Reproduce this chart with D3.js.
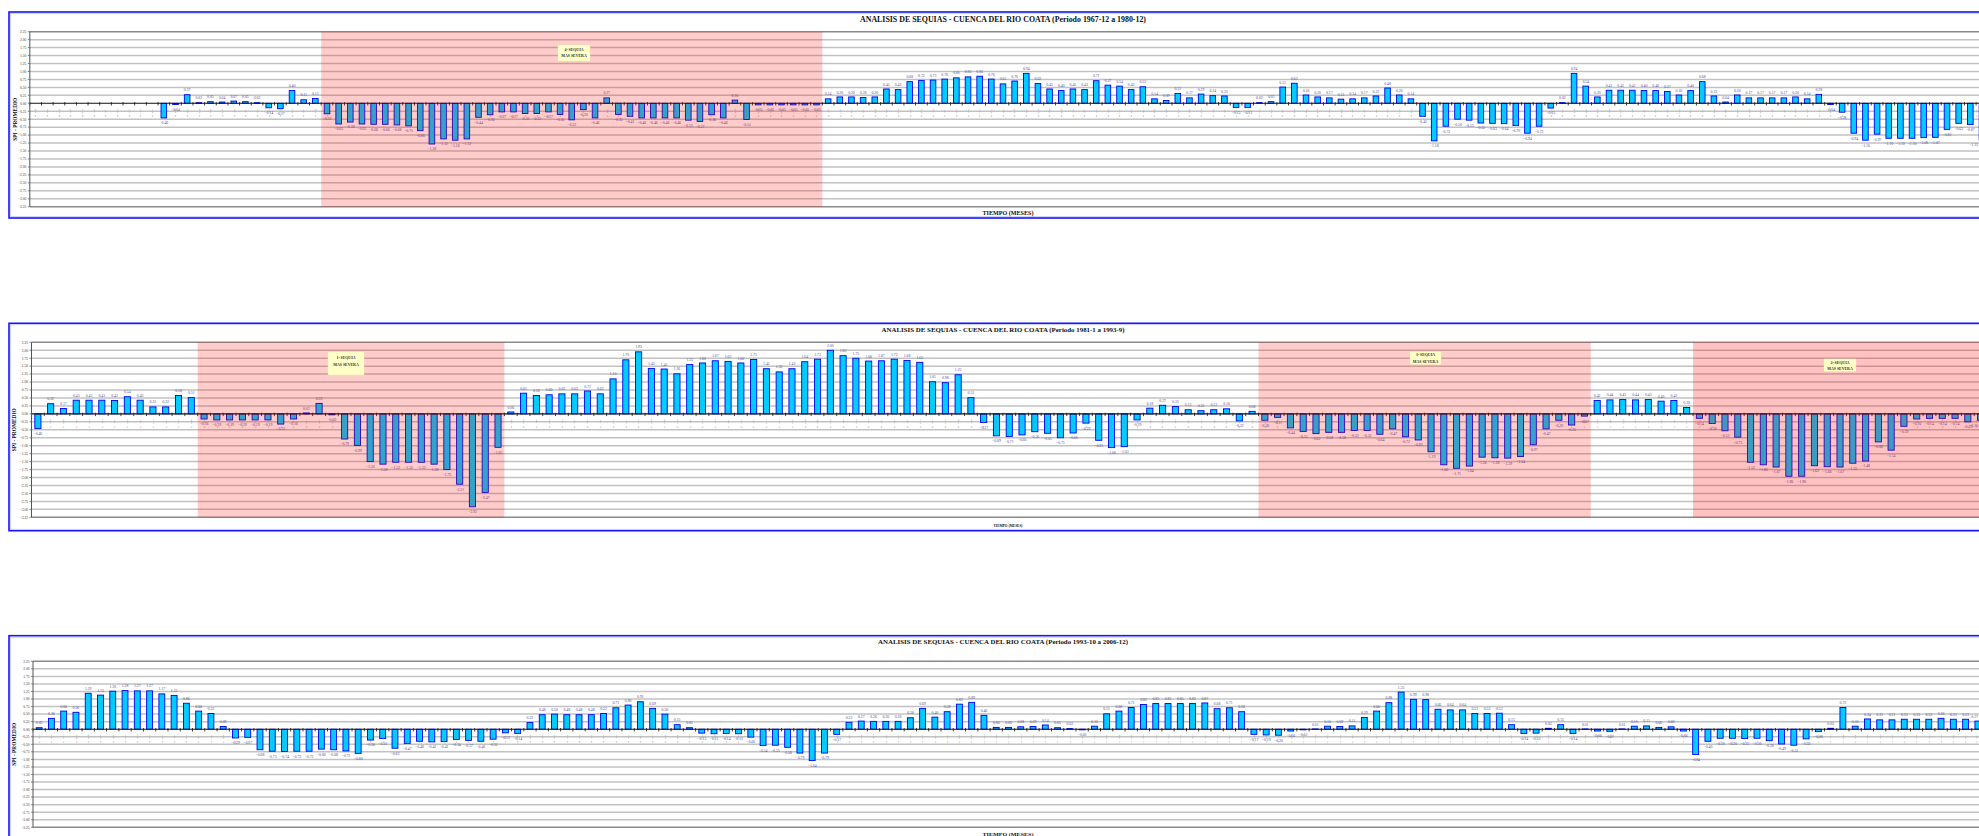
<!DOCTYPE html>
<html><head><meta charset="utf-8">
<script src="https://cdn.jsdelivr.net/npm/d3@7"></script>
<style>body{margin:0;background:#fff;overflow:hidden}svg{display:block}</style>
</head><body>
<svg id="c" width="1979" height="836"></svg>
<script>
// ---------------- DATA ----------------
const titles = [
  "ANALISIS DE SEQUIAS - CUENCA DEL RIO COATA (Periodo 1967-12 a 1980-12)",
  "ANALISIS DE SEQUIAS - CUENCA DEL RIO COATA (Periodo 1981-1 a 1993-9)",
  "ANALISIS DE SEQUIAS - CUENCA DEL RIO COATA (Periodo 1993-10 a 2006-12)"
];
const xTitle = "TIEMPO (MESES)";
const yTitle = "SPI - PROMEDIO";
const yTickValues = [2.25,2.00,1.75,1.50,1.25,1.00,0.75,0.50,0.25,0.00,-0.25,-0.50,-0.75,-1.00,-1.25,-1.50,-1.75,-2.00,-2.25,-2.50,-2.75,-3.00,-3.25];
const monthNames = ["ENE","FEB","MAR","ABR","MAY","JUN","JUL","AGO","SET","OCT","NOV","DIC"];

const spi1 = [
  0,0,0,0,0,0,0,0,0,0,
  0,-0.46,-0.04,0.27,0.02,0.05,0.04,0.07,0.05,0.02,
  -0.14,-0.17,0.40,0.11,0.15,-0.33,-0.65,-0.59,-0.65,-0.66,
  -0.66,-0.68,-0.71,-0.86,-1.28,-1.12,-1.16,-1.12,-0.44,-0.36,
  -0.27,-0.27,-0.32,-0.32,-0.27,-0.35,-0.52,-0.20,-0.46,0.17,
  -0.35,-0.41,-0.46,-0.46,-0.46,-0.46,-0.53,-0.57,-0.36,-0.46,
  0.10,-0.51,-0.05,-0.05,-0.05,-0.05,-0.05,-0.05,0.14,0.20,
  0.20,0.18,0.20,0.45,0.43,0.68,0.72,0.73,0.76,0.80,
  0.83,0.85,0.76,0.61,0.70,0.94,0.62,0.45,0.40,0.45,
  0.43,0.71,0.57,0.54,0.43,0.52,0.14,0.09,0.31,0.17,
  0.29,0.24,0.23,-0.13,-0.13,0.02,0.05,0.51,0.63,0.26,
  0.20,0.17,0.13,0.14,0.17,0.23,0.48,0.26,0.14,-0.41,
  -1.18,-0.72,-0.50,-0.53,-0.62,-0.63,-0.64,-0.70,-0.94,-0.72,
  -0.15,0.02,0.94,0.54,0.20,0.41,0.41,0.41,0.40,0.40,
  0.37,0.26,0.40,0.68,0.23,0.04,0.26,0.17,0.17,0.17,
  0.17,0.20,0.14,0.28,-0.04,-0.28,-0.94,-1.16,-0.97,-1.10,
  -1.10,-1.10,-1.08,-1.07,-0.82,-0.63,-0.67,-1.15
];
const spi2 = [
  -0.46,0.32,0.17,0.43,0.43,0.43,0.42,0.54,0.43,0.22,
  0.22,0.58,0.51,-0.16,-0.19,-0.19,-0.19,-0.19,-0.19,-0.32,
  -0.16,0.03,0.33,-0.03,-0.79,-0.99,-1.50,-1.58,-1.52,-1.52,
  -1.52,-1.58,-1.75,-2.21,-2.92,-2.47,-1.05,0.06,0.65,0.58,
  0.60,0.63,0.63,0.72,0.63,1.10,1.70,1.95,1.43,1.41,
  1.26,1.55,1.60,1.67,1.65,1.60,1.71,1.42,1.32,1.42,
  1.64,1.72,2.00,1.83,1.75,1.66,1.67,1.72,1.68,1.62,
  1.01,0.98,1.23,0.51,-0.27,-0.69,-0.71,-0.66,-0.56,-0.61,
  -0.75,-0.60,-0.29,-0.83,-1.06,-1.03,-0.19,0.18,0.27,0.23,
  0.13,0.10,0.13,0.16,-0.22,0.08,-0.20,-0.11,-0.44,-0.55,
  -0.62,-0.58,-0.58,-0.52,-0.52,-0.64,-0.47,-0.72,-0.82,-1.19,
  -1.60,-1.71,-1.64,-1.36,-1.38,-1.39,-1.34,-0.97,-0.47,-0.20,
  -0.35,-0.07,0.42,0.44,0.45,0.44,0.45,0.40,0.42,0.20,
  -0.14,-0.30,-0.53,-0.73,-1.52,-1.60,-1.67,-1.96,-1.96,-1.63,
  -1.66,-1.67,-1.55,-1.48,-0.88,-1.14,-0.39,-0.16,-0.14,-0.14,
  -0.14,-0.25,-0.20
];
const spi3 = [
  0.05,0.36,0.60,0.56,1.19,1.13,1.26,1.28,1.27,1.27,
  1.17,1.12,0.86,0.60,0.52,0.09,-0.29,-0.27,-0.68,-0.73,
  -0.74,-0.73,-0.73,-0.66,-0.68,-0.72,-0.80,-0.36,-0.31,-0.63,
  -0.47,-0.40,-0.42,-0.41,-0.34,-0.37,-0.40,-0.33,-0.12,-0.14,
  0.22,0.48,0.50,0.48,0.48,0.48,0.52,0.71,0.80,0.91,
  0.69,0.50,0.15,0.05,-0.13,-0.15,-0.14,-0.15,-0.26,-0.54,
  -0.53,-0.60,-0.79,-1.04,-0.79,-0.17,0.23,0.27,0.26,0.26,
  0.26,0.38,0.69,0.40,0.58,0.83,0.89,0.46,0.06,0.06,
  0.08,0.09,0.14,0.05,0.02,-0.02,0.10,0.51,0.60,0.72,
  0.82,0.85,0.85,0.85,0.85,0.87,0.68,0.71,0.58,-0.17,
  -0.19,-0.20,-0.06,-0.02,0.01,0.10,0.09,0.11,0.39,0.60,
  0.88,1.23,0.99,0.98,0.66,0.64,0.64,0.52,0.52,0.53,
  0.15,-0.14,-0.13,0.03,0.15,-0.14,0.01,-0.06,-0.07,0.01,
  0.10,0.11,0.06,0.08,-0.06,-0.84,-0.40,-0.30,-0.30,-0.31,
  -0.30,-0.38,-0.49,-0.53,-0.32,-0.08,0.03,0.72,0.10,0.34,
  0.31,0.31,0.33,0.33,0.33,0.36,0.33,0.33,0.27
];
// first month of each series [year, month]
const starts = [[1967,1],[1981,1],[1993,10]];
// drought periods (1-based month index, inclusive)
const droughts1 = [[26,68]];
const droughts2 = [[14,37],[97,122],[131,153]];
const droughts3 = [];
const noteTexts = {
  d4: ["4\u00AA SEQUIA","MAS SEVERA"],
  d1: ["1\u00AA SEQUIA","MAS SEVERA"],
  d3: ["3\u00AA SEQUIA","MAS SEVERA"],
  d2: ["2\u00AA SEQUIA","MAS SEVERA"]
};

// ---------------- LAYOUT ----------------
const W = 1979;
const panels = [
  {values:spi1, start:starts[0], droughts:droughts1, title:titles[0],
   box:{x:9,y:12,h:206}, plot:{left:29.8,right:1987.8,top:31.7,bottom:206.7},
   titleY:21.8, titleSize:7.6, titleLen:286, xTitleY:214.6, xTitleSize:5.4, xTitleLen:51,
   yTitleX:16.5, tickRows:[7.8,11.6], overlayOp:[0.2],
   notes:[{key:"d4",x:558,y:45,w:32,h:16,ty:[50.8,57.4]}]},
  {values:spi2, start:starts[1], droughts:droughts2, title:titles[1],
   box:{x:9,y:323.3,h:207.4}, plot:{left:31.5,right:1987,top:342.3,bottom:517.3},
   titleY:332.2, titleSize:6.6, titleLen:243, xTitleY:527, xTitleSize:3.4, xTitleLen:29,
   yTitleX:15.6, tickRows:[7.6,12.2], overlayOp:[0.2,0.2,0.24],
   notes:[{key:"d1",x:328,y:352,w:36,h:23,ty:[359.2,365.8]},
          {key:"d3",x:1410,y:351.7,w:31,h:12.8,ty:[355.8,362.6]},
          {key:"d2",x:1824,y:359,w:32,h:12.5,ty:[363.6,369.8]}]},
  {values:spi3, start:starts[2], droughts:droughts3, title:titles[2],
   box:{x:9,y:635.7,h:260}, plot:{left:33,right:1984,top:661.3,bottom:827.3},
   titleY:644.2, titleSize:6.7, titleLen:250, xTitleY:835.6, xTitleSize:5.0, xTitleLen:51,
   yTitleX:15.6, tickRows:[7.6,12.0], overlayOp:[],
   notes:[]}
];

const svg = d3.select("#c");
const serif = "'Liberation Serif','DejaVu Serif',serif";
const fmt = d3.format(".2f");

function monthCats(start, n){
  const out = [];
  for(let i=0;i<n;i++){
    const m0 = start[1]-1+i;
    out.push({key:i, year:start[0]+Math.floor(m0/12), month:(m0%12)+1});
  }
  return out;
}

panels.forEach(p => {
  const g = svg.append("g");
  const cats = monthCats(p.start, p.values.length);
  const data = p.values.map((v,i)=>({v, i, cat:cats[i]}));
  const x = d3.scaleBand().domain(d3.range(p.values.length))
      .range([p.plot.left, p.plot.right]).paddingInner(0.52).paddingOuter(0.26);
  const y = d3.scaleLinear().domain([-3.25,2.25]).range([p.plot.bottom, p.plot.top]);
  const step = x.step();
  const y0 = y(0);
  const cxOf = i => x(i)+x.bandwidth()/2;

  // chart box
  g.append("rect").attr("x",p.box.x).attr("y",p.box.y).attr("width",2100).attr("height",p.box.h)
    .attr("fill","#fff").attr("stroke","#1414ff").attr("stroke-width",1.6);
  g.append("rect").attr("x",p.box.x+1.5).attr("y",p.box.y+1.5).attr("width",2100).attr("height",p.box.h-3)
    .attr("fill","none").attr("stroke","#b8b8ff").attr("stroke-width",0.6);

  // gridlines
  g.selectAll("line.grid").data(yTickValues.filter(t=>t!==0 && t!==2.25 && t!==-3.25)).enter()
    .append("line").attr("x1",p.plot.left).attr("x2",p.plot.right+20)
    .attr("y1",d=>y(d)).attr("y2",d=>y(d))
    .attr("stroke","#c2c2c2").attr("stroke-width",1.5);
  [2.25,-3.25].forEach(t=>{
    g.append("line").attr("x1",p.plot.left).attr("x2",p.plot.right+20)
     .attr("y1",y(t)).attr("y2",y(t)).attr("stroke","#8a8a8a").attr("stroke-width",1.5);
  });

  // bars
  g.selectAll("rect.bar").data(data.filter(d=>d.v!==0)).enter().append("rect")
    .attr("x",d=>x(d.i)).attr("width",x.bandwidth())
    .attr("y",d=>y(Math.max(0,d.v))).attr("height",d=>Math.abs(y(d.v)-y0))
    .attr("fill","#00ccff").attr("stroke","#0000ee").attr("stroke-width",0.9);

  // zero axis
  g.append("line").attr("x1",p.plot.left).attr("x2",p.plot.right+20).attr("y1",y0).attr("y2",y0)
    .attr("stroke","#111").attr("stroke-width",1.1);
  g.selectAll("line.xt").data(d3.range(p.values.length+1)).enter().append("line")
    .attr("x1",i=>p.plot.left+i*step).attr("x2",i=>p.plot.left+i*step)
    .attr("y1",y0-1.2).attr("y2",y0+2.2).attr("stroke","#111").attr("stroke-width",0.8);

  // x tick labels (rotated month / year); kept inside the picture at the right edge
  data.forEach(d=>{
    const cx = Math.min(cxOf(d.i)+0.8, W-2);
    g.append("text").attr("transform",`translate(${cx},${y0+p.tickRows[0]}) rotate(-90)`)
      .attr("text-anchor","middle").attr("font-family",serif).attr("font-size",2.3)
      .attr("fill","#8a8a8a").text(monthNames[d.cat.month-1]);
    g.append("text").attr("transform",`translate(${cx},${y0+p.tickRows[1]+1}) rotate(-90)`)
      .attr("text-anchor","middle").attr("font-family",serif).attr("font-size",2.3)
      .attr("fill","#8a8a8a").text(String(d.cat.year).slice(2));
  });

  // value labels
  g.selectAll("text.val").data(data.filter(d=>d.v!==0)).enter().append("text")
    .attr("x",d=>{const c=cxOf(d.i); return c+5 > W ? W-1 : c;})
    .attr("text-anchor",d=>cxOf(d.i)+5 > W ? "end" : "middle")
    .attr("y",d=>d.v>0 ? y(d.v)-3.4 : y(d.v)+6.4)
    .attr("font-family",serif).attr("font-size",3.8)
    .attr("fill","#4a4a96").text(d=>fmt(d.v));

  // drought overlays
  p.droughts.forEach((dr,k)=>{
    const x0 = p.plot.left + (dr[0]-1)*step;
    const x1 = dr[1]===p.values.length ? p.plot.right+30 : p.plot.left + dr[1]*step;
    g.append("rect").attr("x",x0).attr("y",p.plot.top).attr("width",x1-x0)
      .attr("height",p.plot.bottom-p.plot.top).attr("fill","#ff0000")
      .attr("fill-opacity",p.overlayOp[k]||0.2);
  });

  // notes
  p.notes.forEach(n=>{
    g.append("rect").attr("x",n.x).attr("y",n.y).attr("width",n.w).attr("height",n.h)
      .attr("fill","#ffffc8").attr("stroke","#e8e8b0").attr("stroke-width",0.4);
    noteTexts[n.key].forEach((t,j)=>{
      g.append("text").attr("x",n.x+n.w/2).attr("y",n.ty[j]).attr("text-anchor","middle")
        .attr("font-family",serif).attr("font-weight","bold").attr("font-size",3.9)
        .attr("fill","#333").text(t);
    });
  });

  // y axis
  g.append("line").attr("x1",p.plot.left).attr("x2",p.plot.left).attr("y1",p.plot.top).attr("y2",p.plot.bottom)
    .attr("stroke","#555").attr("stroke-width",1);
  g.selectAll("line.yt").data(yTickValues).enter().append("line")
    .attr("x1",p.plot.left-2).attr("x2",p.plot.left).attr("y1",d=>y(d)).attr("y2",d=>y(d))
    .attr("stroke","#555").attr("stroke-width",0.7);
  g.selectAll("text.yl").data(yTickValues).enter().append("text")
    .attr("x",p.plot.left-3.5).attr("y",d=>y(d)+1.3).attr("text-anchor","end")
    .attr("font-family",serif).attr("font-size",3.6).attr("fill","#333").text(d=>fmt(d));

  // titles
  g.append("text").attr("x",1003).attr("y",p.titleY).attr("text-anchor","middle")
    .attr("font-family",serif).attr("font-weight","bold").attr("font-size",p.titleSize)
    .attr("textLength",p.titleLen).attr("lengthAdjust","spacingAndGlyphs").attr("fill","#111").text(p.title);
  g.append("text").attr("x",1008).attr("y",p.xTitleY).attr("text-anchor","middle")
    .attr("font-family",serif).attr("font-weight","bold").attr("font-size",p.xTitleSize)
    .attr("textLength",p.xTitleLen).attr("lengthAdjust","spacingAndGlyphs").attr("fill","#111").text(xTitle);
  const ymid = (p.plot.top+p.plot.bottom)/2;
  g.append("text").attr("transform",`translate(${p.yTitleX},${ymid}) rotate(-90)`).attr("text-anchor","middle")
    .attr("font-family",serif).attr("font-weight","bold").attr("font-size",5.6)
    .attr("textLength",43).attr("lengthAdjust","spacingAndGlyphs").attr("fill","#111").text(yTitle);
});
</script>
</body></html>
